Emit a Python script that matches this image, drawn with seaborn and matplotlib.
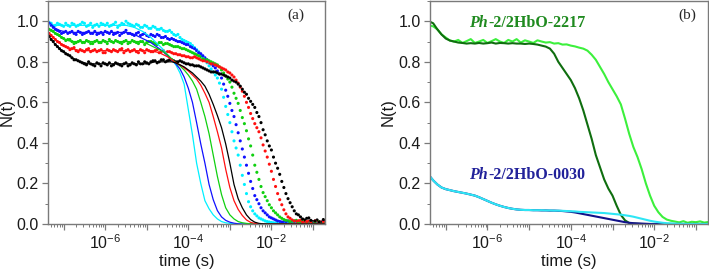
import numpy as np
import pandas as pd
import matplotlib
matplotlib.use("Agg")
import matplotlib.pyplot as plt
import seaborn as sns
from matplotlib.ticker import LogLocator, FuncFormatter, MultipleLocator, NullFormatter

sns.set_theme(style="ticks")
plt.rcParams["font.family"] = ["Liberation Sans", "DejaVu Sans"]
plt.rcParams["mathtext.fontset"] = "custom"
plt.rcParams["mathtext.rm"] = "Liberation Sans"
plt.rcParams["mathtext.it"] = "Liberation Sans:italic"
plt.rcParams["mathtext.default"] = "regular"

# ---------------- data ----------------
log_t = [-7.4, -7.3, -7.2, -7.1, -7.0, -6.9, -6.8, -6.7, -6.6, -6.5,
         -6.4, -6.3, -6.2, -6.1, -6.0, -5.9, -5.8, -5.7, -5.6, -5.5,
         -5.4, -5.3, -5.2, -5.1, -5.0, -4.9, -4.8, -4.7, -4.6, -4.5,
         -4.4, -4.3, -4.2, -4.1, -4.0, -3.9, -3.8, -3.7, -3.6, -3.5,
         -3.4, -3.3, -3.2, -3.1, -3.0, -2.9, -2.8, -2.7, -2.6, -2.5,
         -2.4, -2.3, -2.2, -2.1, -2.0, -1.9, -1.8, -1.7, -1.6, -1.5,
         -1.4, -1.3, -1.2, -1.1, -1.0, -0.9, -0.8, -0.7]
log_t_mid = [-7.35, -7.25, -7.15, -7.05, -6.95, -6.85, -6.75, -6.65, -6.55, -6.45,
             -6.35, -6.25, -6.15, -6.05, -5.95, -5.85, -5.75, -5.65, -5.55, -5.45,
             -5.35, -5.25, -5.15, -5.05, -4.95, -4.85, -4.75, -4.65, -4.55, -4.45,
             -4.35, -4.25, -4.15, -4.05, -3.95, -3.85, -3.75, -3.65, -3.55, -3.45,
             -3.35, -3.25, -3.15, -3.05, -2.95, -2.85, -2.75, -2.65, -2.55, -2.45,
             -2.35, -2.25, -2.15, -2.05, -1.95, -1.85, -1.75, -1.65, -1.55, -1.45,
             -1.35, -1.25, -1.15, -1.05, -0.95, -0.85, -0.75]

# panel (a): measured points (dots), on log_t
dots_cyan = [1.00, 0.99, 0.98, 0.985, 0.975, 0.98, 0.99, 0.975, 0.985, 0.99,
             0.98, 0.97, 0.985, 0.99, 0.98, 0.975, 0.985, 0.97, 0.99, 1.00,
             0.985, 0.975, 0.98, 0.97, 0.975, 0.965, 0.97, 0.96, 0.955, 0.95,
             0.945, 0.93, 0.92, 0.905, 0.895, 0.88, 0.86, 0.835, 0.81, 0.78,
             0.75, 0.72, 0.665, 0.58, 0.50, 0.41, 0.34, 0.24, 0.15, 0.085,
             0.05, 0.03, 0.02, 0.012, 0.008, 0.005, 0.01, 0.004, 0.008, 0.003,
             0.006, 0.01, 0.004, 0.007, 0.005, 0.009, 0.004, 0.006]
dots_blue = [1.0, 0.98, 0.96, 0.95, 0.945, 0.94, 0.95, 0.935, 0.945, 0.94,
             0.95, 0.94, 0.935, 0.945, 0.95, 0.94, 0.935, 0.945, 0.94, 0.955,
             0.94, 0.93, 0.945, 0.935, 0.93, 0.935, 0.925, 0.93, 0.92, 0.915,
             0.915, 0.905, 0.9, 0.89, 0.885, 0.87, 0.855, 0.84, 0.82, 0.80,
             0.78, 0.755, 0.72, 0.66, 0.595, 0.53, 0.45, 0.37, 0.29, 0.21,
             0.14, 0.1, 0.065, 0.045, 0.03, 0.02, 0.012, 0.008, 0.015, 0.006,
             0.01, 0.012, 0.005, 0.009, 0.011, 0.006, 0.01, 0.008]
dots_green = [0.97, 0.955, 0.94, 0.93, 0.915, 0.91, 0.9, 0.895, 0.905, 0.895,
              0.9, 0.89, 0.905, 0.895, 0.9, 0.91, 0.895, 0.9, 0.89, 0.905,
              0.895, 0.9, 0.89, 0.9, 0.895, 0.9, 0.89, 0.895, 0.885, 0.89,
              0.88, 0.875, 0.87, 0.865, 0.855, 0.845, 0.835, 0.825, 0.81, 0.805,
              0.795, 0.785, 0.76, 0.73, 0.70, 0.645, 0.595, 0.525, 0.46, 0.385,
              0.29, 0.22, 0.155, 0.115, 0.08, 0.055, 0.035, 0.022, 0.015, 0.01,
              0.018, 0.008, 0.012, 0.006, 0.01, 0.014, 0.007, 0.009]
dots_red = [0.95, 0.93, 0.91, 0.895, 0.88, 0.87, 0.865, 0.855, 0.86, 0.85,
            0.865, 0.855, 0.85, 0.86, 0.845, 0.855, 0.86, 0.85, 0.865, 0.855,
            0.85, 0.86, 0.845, 0.855, 0.86, 0.85, 0.855, 0.845, 0.855, 0.85,
            0.845, 0.84, 0.835, 0.83, 0.825, 0.82, 0.82, 0.81, 0.805, 0.795,
            0.79, 0.78, 0.77, 0.76, 0.745, 0.725, 0.695, 0.655, 0.6, 0.545,
            0.495, 0.455, 0.39, 0.33, 0.26, 0.185, 0.12, 0.07, 0.035, 0.02,
            0.012, 0.018, 0.008, 0.014, 0.006, 0.012, 0.01, 0.016]
dots_black = [0.94, 0.91, 0.885, 0.865, 0.85, 0.835, 0.82, 0.81, 0.8, 0.79,
              0.8, 0.785, 0.795, 0.78, 0.79, 0.795, 0.785, 0.79, 0.78, 0.795,
              0.785, 0.79, 0.8, 0.79, 0.795, 0.8, 0.805, 0.8, 0.81, 0.805,
              0.81, 0.8, 0.805, 0.795, 0.79, 0.785, 0.78, 0.775, 0.765, 0.755,
              0.75, 0.745, 0.74, 0.73, 0.72, 0.705, 0.69, 0.665, 0.64, 0.605,
              0.575, 0.53, 0.465, 0.41, 0.365, 0.3, 0.245, 0.18, 0.125, 0.085,
              0.05, 0.035, 0.02, 0.03, 0.012, 0.02, 0.008, 0.015]

# panel (a): measured points (dots), on log_t_mid
mid_cyan = [0.995, 0.975, 0.99, 0.98, 0.99, 0.975, 0.985, 0.98, 0.995, 0.975,
            0.99, 0.98, 0.975, 0.985, 0.99, 0.98, 0.995, 0.98, 0.985, 0.99,
            0.98, 0.985, 0.97, 0.98, 0.965, 0.975, 0.96, 0.965, 0.95, 0.955,
            0.935, 0.935, 0.91, 0.9, 0.89, 0.87, 0.85, 0.82, 0.795, 0.765,
            0.735, 0.695, 0.625, 0.54, 0.455, 0.375, 0.29, 0.195, 0.11, 0.065,
            0.04, 0.025, 0.015, 0.01, 0.006, 0.009, 0.003, 0.007, 0.005, 0.01,
            0.004, 0.008, 0.006, 0.003, 0.009, 0.005, 0.007]
mid_blue = [0.99, 0.97, 0.955, 0.94, 0.95, 0.945, 0.94, 0.95, 0.935, 0.945,
            0.94, 0.95, 0.94, 0.935, 0.945, 0.95, 0.94, 0.93, 0.945, 0.94,
            0.935, 0.94, 0.93, 0.94, 0.925, 0.93, 0.935, 0.92, 0.925, 0.91,
            0.91, 0.9, 0.895, 0.885, 0.875, 0.865, 0.845, 0.83, 0.81, 0.79,
            0.77, 0.74, 0.69, 0.63, 0.56, 0.49, 0.41, 0.33, 0.25, 0.175,
            0.12, 0.08, 0.055, 0.035, 0.025, 0.015, 0.01, 0.012, 0.007, 0.013,
            0.006, 0.01, 0.008, 0.012, 0.005, 0.009, 0.011]
mid_green = [0.96, 0.95, 0.935, 0.92, 0.905, 0.91, 0.89, 0.9, 0.895, 0.905,
             0.89, 0.9, 0.895, 0.905, 0.89, 0.9, 0.905, 0.895, 0.9, 0.89,
             0.905, 0.895, 0.9, 0.885, 0.9, 0.895, 0.885, 0.895, 0.89, 0.885,
             0.875, 0.875, 0.865, 0.86, 0.85, 0.84, 0.83, 0.815, 0.81, 0.8,
             0.79, 0.775, 0.745, 0.715, 0.675, 0.62, 0.56, 0.495, 0.42, 0.34,
             0.255, 0.185, 0.135, 0.095, 0.065, 0.045, 0.028, 0.018, 0.012, 0.015,
             0.009, 0.014, 0.007, 0.011, 0.008, 0.012, 0.006]
mid_red = [0.94, 0.92, 0.9, 0.885, 0.875, 0.86, 0.87, 0.85, 0.855, 0.86,
           0.85, 0.86, 0.855, 0.845, 0.86, 0.85, 0.855, 0.86, 0.845, 0.86,
           0.855, 0.85, 0.86, 0.845, 0.855, 0.85, 0.86, 0.85, 0.845, 0.85,
           0.84, 0.835, 0.83, 0.825, 0.82, 0.825, 0.815, 0.805, 0.8, 0.79,
           0.785, 0.775, 0.765, 0.75, 0.735, 0.71, 0.675, 0.63, 0.575, 0.52,
           0.475, 0.425, 0.36, 0.295, 0.22, 0.15, 0.095, 0.05, 0.028, 0.015,
           0.016, 0.01, 0.012, 0.008, 0.015, 0.009, 0.012]
mid_black = [0.925, 0.9, 0.875, 0.855, 0.84, 0.83, 0.81, 0.805, 0.795, 0.785,
             0.79, 0.78, 0.79, 0.795, 0.785, 0.78, 0.795, 0.785, 0.79, 0.78,
             0.795, 0.785, 0.79, 0.8, 0.79, 0.805, 0.795, 0.81, 0.8, 0.81,
             0.805, 0.8, 0.8, 0.79, 0.785, 0.78, 0.78, 0.77, 0.76, 0.75,
             0.75, 0.74, 0.735, 0.725, 0.71, 0.7, 0.68, 0.65, 0.62, 0.59,
             0.55, 0.5, 0.44, 0.385, 0.33, 0.275, 0.21, 0.15, 0.105, 0.065,
             0.045, 0.025, 0.028, 0.018, 0.015, 0.01, 0.022]

# panel (a): solid curves
line_cyan = [0.99, 0.985, 0.98, 0.98, 0.98, 0.98, 0.98, 0.98, 0.98, 0.98,
             0.98, 0.98, 0.98, 0.98, 0.98, 0.98, 0.98, 0.98, 0.98, 0.98,
             0.975, 0.97, 0.96, 0.95, 0.935, 0.92, 0.9, 0.88, 0.86, 0.835,
             0.81, 0.785, 0.745, 0.69, 0.565, 0.44, 0.30, 0.2, 0.115, 0.075,
             0.045, 0.025, 0.012, 0.006, 0.003, 0.001, 0, 0, 0, 0,
             0, 0, 0, 0, 0, 0, 0, 0, 0, 0,
             0, 0, 0, 0, 0, 0, 0, 0]
line_blue = [1.0, 0.985, 0.965, 0.955, 0.95, 0.945, 0.945, 0.945, 0.945, 0.945,
             0.945, 0.945, 0.945, 0.945, 0.945, 0.945, 0.945, 0.945, 0.945, 0.945,
             0.94, 0.935, 0.925, 0.915, 0.905, 0.895, 0.88, 0.865, 0.85, 0.83,
             0.81, 0.79, 0.765, 0.725, 0.67, 0.6, 0.5, 0.395, 0.3, 0.195,
             0.12, 0.066, 0.035, 0.018, 0.009, 0.004, 0.001, 0, 0, 0,
             0, 0, 0, 0, 0, 0, 0, 0, 0, 0,
             0, 0, 0, 0, 0, 0, 0, 0]
line_green = [0.97, 0.955, 0.94, 0.925, 0.915, 0.905, 0.9, 0.9, 0.9, 0.9,
              0.9, 0.9, 0.9, 0.9, 0.9, 0.9, 0.9, 0.9, 0.9, 0.9,
              0.9, 0.9, 0.9, 0.895, 0.89, 0.88, 0.87, 0.86, 0.85, 0.835,
              0.815, 0.795, 0.78, 0.76, 0.735, 0.705, 0.665, 0.6, 0.53, 0.445,
              0.34, 0.235, 0.145, 0.08, 0.045, 0.025, 0.012, 0.006, 0.003, 0.001,
              0, 0, 0, 0, 0, 0, 0, 0, 0, 0,
              0, 0, 0, 0, 0, 0, 0, 0]
line_red = [0.95, 0.93, 0.91, 0.895, 0.88, 0.87, 0.865, 0.86, 0.855, 0.855,
            0.855, 0.855, 0.855, 0.855, 0.855, 0.855, 0.855, 0.855, 0.855, 0.855,
            0.855, 0.855, 0.855, 0.855, 0.855, 0.855, 0.85, 0.845, 0.835, 0.825,
            0.81, 0.795, 0.785, 0.77, 0.755, 0.735, 0.715, 0.685, 0.645, 0.6,
            0.53, 0.455, 0.375, 0.27, 0.18, 0.115, 0.072, 0.042, 0.02, 0.008,
            0.003, 0.001, 0, 0, 0, 0, 0, 0, 0, 0,
            0, 0, 0, 0, 0, 0, 0, 0]
line_black = [0.94, 0.91, 0.885, 0.865, 0.85, 0.835, 0.82, 0.81, 0.8, 0.795,
              0.79, 0.79, 0.79, 0.79, 0.79, 0.79, 0.79, 0.79, 0.79, 0.79,
              0.79, 0.79, 0.79, 0.79, 0.79, 0.795, 0.8, 0.8, 0.8, 0.8,
              0.8, 0.795, 0.785, 0.775, 0.76, 0.745, 0.725, 0.705, 0.68, 0.64,
              0.59, 0.535, 0.475, 0.395, 0.3, 0.195, 0.125, 0.08, 0.045, 0.022,
              0.009, 0.003, 0.001, 0, 0, 0, 0, 0, 0, 0,
              0, 0, 0, 0, 0, 0, 0, 0]

# panel (b)
b_2217_dark = [1.0, 0.99, 0.96, 0.935, 0.915, 0.905, 0.9, 0.895, 0.893, 0.89,
               0.892, 0.89, 0.893, 0.89, 0.892, 0.895, 0.89, 0.893, 0.892, 0.89,
               0.892, 0.89, 0.89, 0.888, 0.89, 0.888, 0.885, 0.88, 0.875, 0.865,
               0.84, 0.8, 0.77, 0.74, 0.71, 0.67, 0.62, 0.56, 0.49, 0.42,
               0.34, 0.28, 0.22, 0.175, 0.14, 0.09, 0.045, 0.018, 0.005, 0.002,
               0.001, 0, 0, 0, 0, 0, 0, 0, 0, 0,
               0, 0, 0, 0, 0, 0, 0, 0]
b_2217_light = [0.98, 0.975, 0.96, 0.935, 0.92, 0.905, 0.9, 0.908, 0.893, 0.902,
                0.912, 0.893, 0.9, 0.908, 0.893, 0.902, 0.912, 0.9, 0.893, 0.908,
                0.9, 0.912, 0.895, 0.906, 0.9, 0.893, 0.906, 0.9, 0.895, 0.897,
                0.89, 0.892, 0.885, 0.886, 0.88, 0.876, 0.87, 0.865, 0.855, 0.835,
                0.81, 0.775, 0.74, 0.70, 0.665, 0.63, 0.59, 0.52, 0.445, 0.38,
                0.33, 0.27, 0.2, 0.14, 0.09, 0.058, 0.035, 0.022, 0.016, 0.012,
                0.008, 0.014, 0.006, 0.011, 0.009, 0.013, 0.007, 0.01]
b_0030_navy = [0.24, 0.215, 0.195, 0.18, 0.172, 0.167, 0.162, 0.158, 0.154, 0.15,
               0.145, 0.14, 0.132, 0.123, 0.114, 0.105, 0.097, 0.09, 0.084, 0.079,
               0.075, 0.072, 0.07, 0.069, 0.069, 0.068, 0.068, 0.067, 0.067, 0.066,
               0.066, 0.065, 0.064, 0.062, 0.06, 0.057, 0.053, 0.049, 0.045, 0.041,
               0.037, 0.033, 0.029, 0.025, 0.021, 0.017, 0.013, 0.009, 0.006, 0.004,
               0.003, 0.002, 0.001, 0, 0, 0, 0, 0, 0, 0,
               0, 0, 0, 0, 0, 0, 0, 0]
b_0030_cyan = [0.24, 0.215, 0.195, 0.18, 0.172, 0.167, 0.162, 0.158, 0.154, 0.15,
               0.145, 0.14, 0.132, 0.123, 0.114, 0.105, 0.097, 0.09, 0.084, 0.079,
               0.075, 0.072, 0.07, 0.069, 0.069, 0.068, 0.068, 0.068, 0.067, 0.067,
               0.066, 0.066, 0.065, 0.064, 0.063, 0.062, 0.06, 0.059, 0.058, 0.057,
               0.056, 0.055, 0.054, 0.052, 0.05, 0.048, 0.046, 0.043, 0.04, 0.036,
               0.031, 0.026, 0.021, 0.016, 0.012, 0.009, 0.006, 0.004, 0.003, 0.002,
               0.001, 0.001, 0, 0, 0, 0, 0, 0]

tick_exponents_labeled = [-6, -4, -2]
y_ticks = [0.0, 0.2, 0.4, 0.6, 0.8, 1.0]
label_2217 = ("Ph", "-2/2HbO-2217")
label_0030 = ("Ph", "-2/2HbO-0030")

# ---------------- frames ----------------
t = [10 ** e for e in log_t]
t_mid = [10 ** e for e in log_t_mid]

def long_frame(series, times):
    return pd.concat([pd.DataFrame({"t": times, "N": v, "series": k})
                      for k, v in series.items()], ignore_index=True)

dots_a = pd.concat([
    long_frame({"cyan": dots_cyan, "blue": dots_blue, "green": dots_green,
                "red": dots_red, "black": dots_black}, t),
    long_frame({"cyan": mid_cyan, "blue": mid_blue, "green": mid_green,
                "red": mid_red, "black": mid_black}, t_mid),
], ignore_index=True)
lines_a = long_frame({"cyan": line_cyan, "blue": line_blue, "green": line_green,
                      "red": line_red, "black": line_black}, t)
lines_b = long_frame({"light": b_2217_light, "dark": b_2217_dark,
                      "navy": b_0030_navy, "cyan": b_0030_cyan}, t)

pal_a = {"cyan": "#00f0ff", "blue": "#1010ff", "green": "#10d010",
         "red": "#ff1010", "black": "#000000"}
pal_b = {"light": "#3cf03c", "dark": "#0f6e0f", "navy": "#12128a", "cyan": "#2ee6f5"}

# ---------------- figure ----------------
fig = plt.figure(figsize=(7.09, 2.73), dpi=100)
ax1 = fig.add_axes([48 / 709, 49 / 273, 277 / 709, 223 / 273])
ax2 = fig.add_axes([430 / 709, 49 / 273, 278 / 709, 223 / 273])

for ax in (ax1, ax2):
    ax.set_xscale("log")

sns.lineplot(data=lines_a, x="t", y="N", hue="series", palette=pal_a,
             linewidth=0.9, estimator=None, legend=False, ax=ax1)
sns.scatterplot(data=dots_a, x="t", y="N", hue="series", palette=pal_a,
                s=5, marker="o", linewidth=0, legend=False, ax=ax1)

sns.lineplot(data=lines_b, x="t", y="N", hue="series", palette=pal_b,
             linewidth=1.5, estimator=None, legend=False, ax=ax2)

def xfmt(v, pos):
    e = int(round(np.log10(v)))
    return r"$10^{%d}$" % e if e in tick_exponents_labeled else ""

spine_c = "#7a7a7a"
for ax in (ax1, ax2):
    ax.set_xlim(4.2e-8, 0.195)
    ax.set_ylim(0, 1.1)
    ax.xaxis.set_major_locator(LogLocator(base=10, numticks=20))
    ax.xaxis.set_major_formatter(FuncFormatter(xfmt))
    ax.xaxis.set_minor_locator(LogLocator(base=10, subs=np.arange(2, 10), numticks=100))
    ax.xaxis.set_minor_formatter(NullFormatter())
    ax.set_yticks(y_ticks)
    ax.yaxis.set_minor_locator(MultipleLocator(0.1))
    ax.yaxis.set_major_formatter(FuncFormatter(lambda v, p: "%.1f" % v))
    for s in ax.spines.values():
        s.set_color(spine_c)
        s.set_linewidth(1.0)
    ax.tick_params(which="major", direction="out", length=4.5, width=0.9,
                   color=spine_c, labelsize=11.5, labelcolor="#1a1a1a", pad=2)
    ax.tick_params(which="minor", direction="out", length=2.5, width=0.7, color=spine_c)
    ax.set_xlabel("time (s)", fontsize=12, color="#1a1a1a")
    ax.set_ylabel("N(t)", fontsize=12, color="#1a1a1a")
    ax.xaxis.set_label_coords(0.5, -0.135)
    ax.yaxis.set_label_coords(-0.122, 0.5)

serif = ["Liberation Serif", "DejaVu Serif"]
ax1.text(0.895, 0.935, "(a)", transform=ax1.transAxes, ha="center", va="center",
         fontsize=11, family=serif)
ax2.text(0.924, 0.935, "(b)", transform=ax2.transAxes, ha="center", va="center",
         fontsize=11, family=serif)

def two_part(ax, x, y, parts, color):
    t1 = ax.text(x, y, parts[0], fontsize=11.5, family=serif, fontweight="bold",
                 fontstyle="italic", color=color, va="center", ha="left")
    ax.annotate(parts[1], xy=(1, 0), xycoords=t1, va="bottom", ha="left",
                fontsize=11.5, family=serif, fontweight="bold", color=color)

two_part(ax2, 3.7e-7, 0.99, label_2217, "#1f8a1f")
two_part(ax2, 3.7e-7, 0.24, label_0030, "#22229a")

fig.savefig("out.png", dpi=100)
